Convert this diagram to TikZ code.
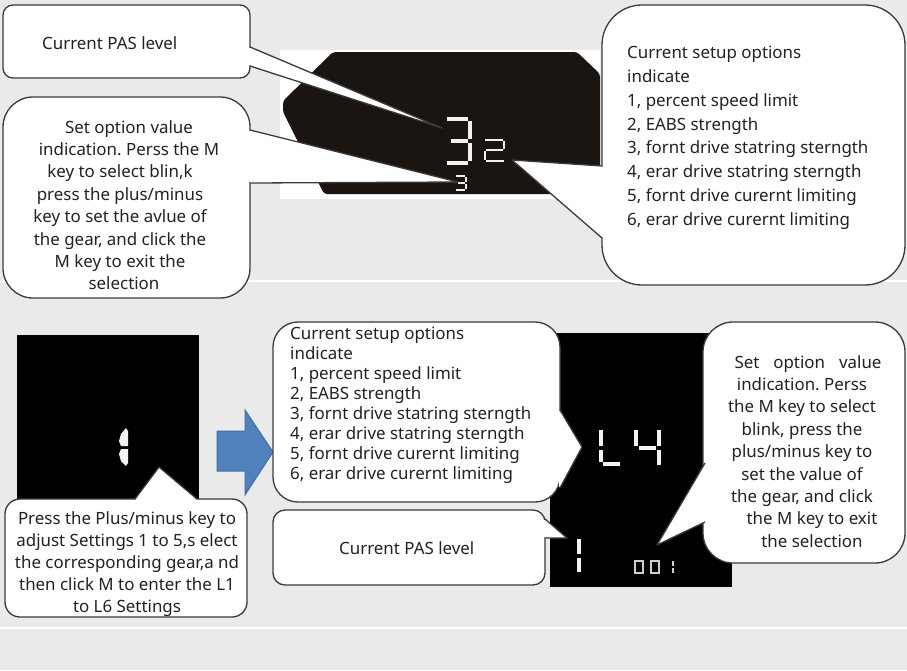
\documentclass[tikz,border=0pt]{standalone}
\usepackage{fontspec}
\setmainfont{Noto Sans}
\frenchspacing
\definecolor{bgc}{HTML}{EAEAEA}
\definecolor{dispc}{HTML}{1B1512}
\definecolor{linec}{HTML}{3A3A3A}
\definecolor{textc}{HTML}{222222}
\definecolor{arrowfill}{HTML}{4F81BD}
\definecolor{arrowline}{HTML}{3F6FA8}
\definecolor{segc}{HTML}{F2F2F2}
\newcommand\callptr[3]{%
  \fill[white] #1 -- #2 -- #3 -- cycle;
  \draw[white,line width=2.4pt,shorten <=0.9pt,shorten >=0.9pt] #2 -- #3;
  \draw[calline] #2 -- #1 -- #3;}
\begin{document}
\begin{tikzpicture}[x=1pt,y=-1pt,
  callbox/.style={fill=white,draw=linec,line width=1.3pt},
  calline/.style={draw=linec,line width=1.3pt,line join=round},
  txt/.style={font=\fontsize{16.9}{22}\selectfont,text=textc,inner sep=0pt},
  seg/.style={draw=segc,line cap=butt},
]
\useasboundingbox (0,0) rectangle (907,670);
\fill[bgc] (0,0) rectangle (907,670);
\draw[white,line width=1.5pt] (0,281) -- (907,281);
\draw[white,line width=1.5pt] (0,628) -- (907,628);

% ---------- top display ----------
\fill[white] (280,50) rectangle (600,199);
\fill[dispc,rounded corners=3pt] (333,52) -- (577,52) -- (600,74) -- (600,194) -- (324,194) -- (283,112) -- (283,101) -- cycle;
% big 3
\draw[seg,line width=3.5pt] (447,119) -- (468,119) (470,121) -- (470,139) (451,141) -- (468,141) (470,143) -- (470,161) (447,163) -- (468,163);
% small 2
\draw[seg,line width=2.5pt] (485,140) -- (503,140) (504,141) -- (504,149) (486,150) -- (503,150) (485,151) -- (485,160) (486,161) -- (504,161);
% tiny 3
\draw[seg,line width=1.5pt] (456,176) -- (465,176) (466,177) -- (466,182) (458,183) -- (465,183) (466,184) -- (466,189) (456,190) -- (465,190);

% ---------- top callouts ----------
\node[callbox,rounded corners=10pt,minimum width=247pt,minimum height=73pt] (pasbox) at (126.5,41.5) {};
\coordinate (pasTip) at (442,128);
\coordinate (pasA) at (250,47);
\coordinate (pasB) at (250,66);
\callptr{(pasTip)}{(pasA)}{(pasB)}
\node[txt,anchor=base west] (pastxt) at (42,49.5) {Current PAS level};

\node[callbox,rounded corners=30pt,minimum width=247pt,minimum height=201pt] (setbox) at (126.5,197.5) {};
\coordinate (setTip) at (458,182);
\coordinate (setA) at (250,130);
\coordinate (setB) at (250,183);
\callptr{(setTip)}{(setA)}{(setB)}
\node[txt,anchor=north,align=center,font=\fontsize{16.9}{22.4}\selectfont] (settxt) at (120,120)
 {\hspace*{18pt}Set option value\\\hspace*{18pt}indication. Perss the M\\key to select blin,k\\press the plus/minus\\key to set the avlue of\\the gear, and click the\\M key to exit the\\\hspace*{8pt}selection};

\node[callbox,rounded corners=40pt,minimum width=303pt,minimum height=280pt] (optbox) at (753.5,145) {};
\coordinate (optTip) at (512,160);
\coordinate (optA) at (602,166);
\coordinate (optB) at (602,238);
\callptr{(optTip)}{(optA)}{(optB)}
\node[txt,anchor=north west,align=left,font=\fontsize{16.9}{23.8}\selectfont] (opttxt) at (627,46)
 {Current setup options\\indicate\\1, percent speed limit\\2, EABS strength\\3, fornt drive statring sterngth\\4, erar drive statring sterngth\\5, fornt drive curernt limiting\\6, erar drive curernt limiting};

% ---------- bottom left display ----------
\fill[black] (17,335) rectangle (199,500);
\fill[segc] (126,428) -- (128,431) -- (128,446) -- (121,446) -- (119,441) -- (121,434) -- cycle;
\fill[segc] (121,449) -- (128,449) -- (128,463) -- (126,466) -- (121,461) -- (119,454) -- cycle;

\node[callbox,rounded corners=15pt,minimum width=242pt,minimum height=118pt] (pressbox) at (126,558) {};
\coordinate (pressTip) at (159,467);
\coordinate (pressA) at (135,499);
\coordinate (pressB) at (197,499);
\callptr{(pressTip)}{(pressA)}{(pressB)}
\node[txt,anchor=north,align=center] (presstxt) at (127,511)
 {Press the Plus/minus key to\\adjust Settings 1 to 5,s elect\\the corresponding gear,a nd\\then click M to enter the L1\\to L6 Settings};

% ---------- blue arrow ----------
\filldraw[fill=arrowfill,draw=arrowline,line width=1pt] (217,431) -- (245,431) -- (245,410) -- (273,452) -- (245,495) -- (245,471) -- (217,471) -- cycle;

% ---------- bottom right display ----------
\fill[black] (550,333) rectangle (732,587);
% L
\draw[seg,line width=4.5pt] (601,430) -- (601,446) (601,450) -- (601,462) (603,464) -- (620,464);
% 4
\draw[seg,line width=4.5pt] (636,430) -- (636,446) (639,448) -- (656,448) (659,430) -- (659,446) (659,450) -- (659,465);
% 1
\draw[seg,line width=4.5pt] (579,539) -- (579,554) (579,558) -- (579,572);
% 001
\draw[draw=segc!85!black,line width=2pt] (634.5,560.5) rectangle (643,573);
\draw[draw=segc!85!black,line width=2pt] (650.5,560.5) rectangle (659,573);
\draw[draw=segc!85!black,line width=2.5pt] (673,561) -- (673,566) (673,568) -- (673,573);

% ---------- bottom callouts ----------
\node[callbox,rounded corners=25pt,minimum width=287pt,minimum height=180pt] (opt2box) at (416.5,412) {};
\coordinate (opt2Tip) at (582,447);
\coordinate (opt2A) at (560,410);
\coordinate (opt2B) at (560,488);
\callptr{(opt2Tip)}{(opt2A)}{(opt2B)}
\node[txt,anchor=north west,align=left,font=\fontsize{16.9}{20}\selectfont] (opt2txt) at (290,327)
 {Current setup options\\indicate\\1, percent speed limit\\2, EABS strength\\3, fornt drive statring sterngth\\4, erar drive statring sterngth\\5, fornt drive curernt limiting\\6, erar drive curernt limiting};

\node[callbox,rounded corners=12pt,minimum width=272pt,minimum height=75pt] (pas2box) at (409,547.5) {};
\coordinate (pas2Tip) at (567,538);
\coordinate (pas2A) at (545,519);
\coordinate (pas2B) at (545,538);
\callptr{(pas2Tip)}{(pas2A)}{(pas2B)}
\node[txt,anchor=base west] (pas2txt) at (339,554.5) {Current PAS level};

\node[callbox,rounded corners=30pt,minimum width=202pt,minimum height=241pt] (set2box) at (804,442.5) {};
\coordinate (set2Tip) at (657,545);
\coordinate (set2A) at (705,463);
\coordinate (set2B) at (705,522);
\callptr{(set2Tip)}{(set2A)}{(set2B)}
\node[txt,anchor=north,align=center,font=\fontsize{16.9}{22.4}\selectfont] (set2txt) at (802,355)
 {\hspace*{12pt}\makebox[147pt][s]{Set option value}\\indication. Perss\\the M key to select\\blink, press the\\plus/minus key to\\set the value of\\the gear, and click\\\hspace*{20pt}the M key to exit\\\hspace*{20pt}the selection};
\end{tikzpicture}
\end{document}
